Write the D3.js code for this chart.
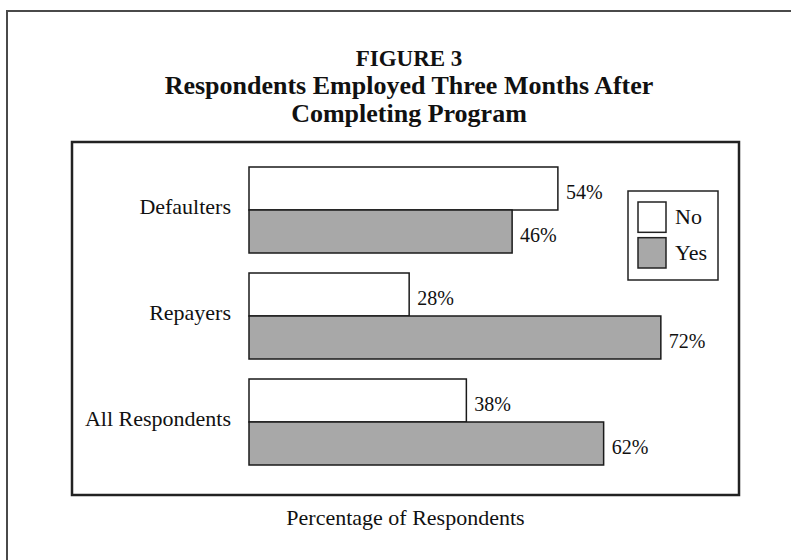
<!DOCTYPE html>
<html>
<head>
<meta charset="utf-8">
<script src="https://cdn.jsdelivr.net/npm/d3@7"></script>
<style>
  html, body { margin: 0; padding: 0; background: #fff; }
  svg { display: block; }
</style>
</head>
<body>
<div id="chart"></div>
<script>
// ---- data ----
const categories = ["Defaulters", "Repayers", "All Respondents"];
const seriesNames = ["No", "Yes"];
const noValues = [54, 28, 38];
const yesValues = [46, 72, 62];
const titleLines = ["FIGURE 3", "Respondents Employed Three Months After", "Completing Program"];
const xAxisLabel = "Percentage of Respondents";

const W = 791, H = 560;
const serif = "'Liberation Serif', 'Times New Roman', serif";
const barFill = "#a8a8a8";
const colors = { No: "#ffffff", Yes: barFill };

const svg = d3.select("#chart").append("svg")
  .attr("width", W).attr("height", H);

svg.append("rect").attr("width", W).attr("height", H).attr("fill", "#fff");

// outer frame (top & left visible)
svg.append("path")
  .attr("d", "M7,560 L7,11 L791,11")
  .attr("fill", "none").attr("stroke", "#4a4a4a").attr("stroke-width", 2);

// titles
const titleX = 409;
svg.append("text").attr("x", titleX).attr("y", 66)
  .attr("text-anchor", "middle").attr("font-family", serif)
  .attr("font-weight", "bold").attr("font-size", 23).attr("fill", "#111")
  .text(titleLines[0]);
svg.append("text").attr("x", titleX).attr("y", 94)
  .attr("text-anchor", "middle").attr("font-family", serif)
  .attr("font-weight", "bold").attr("font-size", 26).attr("fill", "#111")
  .text(titleLines[1]);
svg.append("text").attr("x", titleX).attr("y", 122)
  .attr("text-anchor", "middle").attr("font-family", serif)
  .attr("font-weight", "bold").attr("font-size", 26).attr("fill", "#111")
  .text(titleLines[2]);

// inner plot box
const box = { x0: 72, y0: 142, x1: 739, y1: 495 };
svg.append("rect")
  .attr("x", box.x0).attr("y", box.y0)
  .attr("width", box.x1 - box.x0).attr("height", box.y1 - box.y0)
  .attr("fill", "none").attr("stroke", "#222").attr("stroke-width", 2.5);

// scales
const x = d3.scaleLinear().domain([0, 100]).range([249, 821]);
const y = d3.scaleBand().domain(categories).range([167, 465])
  .paddingInner(20 / 106).paddingOuter(0);
const ySub = d3.scaleBand().domain(seriesNames).range([0, y.bandwidth()]);

const rows = categories.map((c, i) => ({ cat: c, No: noValues[i], Yes: yesValues[i] }));

const groups = svg.append("g").selectAll("g.grp")
  .data(rows).join("g")
  .attr("class", "grp")
  .attr("transform", d => `translate(0,${y(d.cat)})`);

groups.selectAll("rect")
  .data(d => seriesNames.map(s => ({ s, v: d[s] })))
  .join("rect")
  .attr("x", x(0))
  .attr("y", d => ySub(d.s))
  .attr("width", d => x(d.v) - x(0))
  .attr("height", ySub.bandwidth())
  .attr("fill", d => colors[d.s])
  .attr("stroke", "#1a1a1a").attr("stroke-width", 1.5);

groups.selectAll("text.val")
  .data(d => seriesNames.map(s => ({ s, v: d[s] })))
  .join("text")
  .attr("class", "val")
  .attr("x", d => x(d.v) + 8)
  .attr("y", d => ySub(d.s) + ySub.bandwidth() / 2)
  .attr("dy", "0.53em")
  .attr("font-family", serif).attr("font-size", 20).attr("fill", "#111")
  .text(d => d.v + "%");

// category labels (axis)
const yAxis = d3.axisLeft(y).tickSize(0).tickPadding(0);
const axisG = svg.append("g").attr("transform", "translate(231,0)").call(yAxis);
axisG.select(".domain").remove();
axisG.selectAll("text")
  .attr("font-family", serif).attr("font-size", 22).attr("fill", "#111")
  .attr("dy", "0.2em");

// legend
const lg = svg.append("g");
lg.append("rect").attr("x", 628).attr("y", 191).attr("width", 90).attr("height", 89)
  .attr("fill", "#fff").attr("stroke", "#222").attr("stroke-width", 1.5);
const legY = d3.scaleBand().domain(seriesNames).range([202, 268]).paddingInner(0.15);
lg.selectAll("rect.sw").data(seriesNames).join("rect")
  .attr("class", "sw")
  .attr("x", 638).attr("y", d => legY(d))
  .attr("width", 28).attr("height", legY.bandwidth())
  .attr("fill", d => colors[d]).attr("stroke", "#222").attr("stroke-width", 1.5);
lg.selectAll("text.lt").data(seriesNames).join("text")
  .attr("class", "lt")
  .attr("x", 675).attr("y", d => legY(d) + legY.bandwidth() / 2)
  .attr("dy", "0.33em")
  .attr("font-family", serif).attr("font-size", 22).attr("fill", "#111")
  .text(d => d);

// x axis label
svg.append("text").attr("x", (box.x0 + box.x1) / 2).attr("y", 525)
  .attr("text-anchor", "middle").attr("font-family", serif)
  .attr("font-size", 22).attr("fill", "#111")
  .text(xAxisLabel);
</script>
</body>
</html>
